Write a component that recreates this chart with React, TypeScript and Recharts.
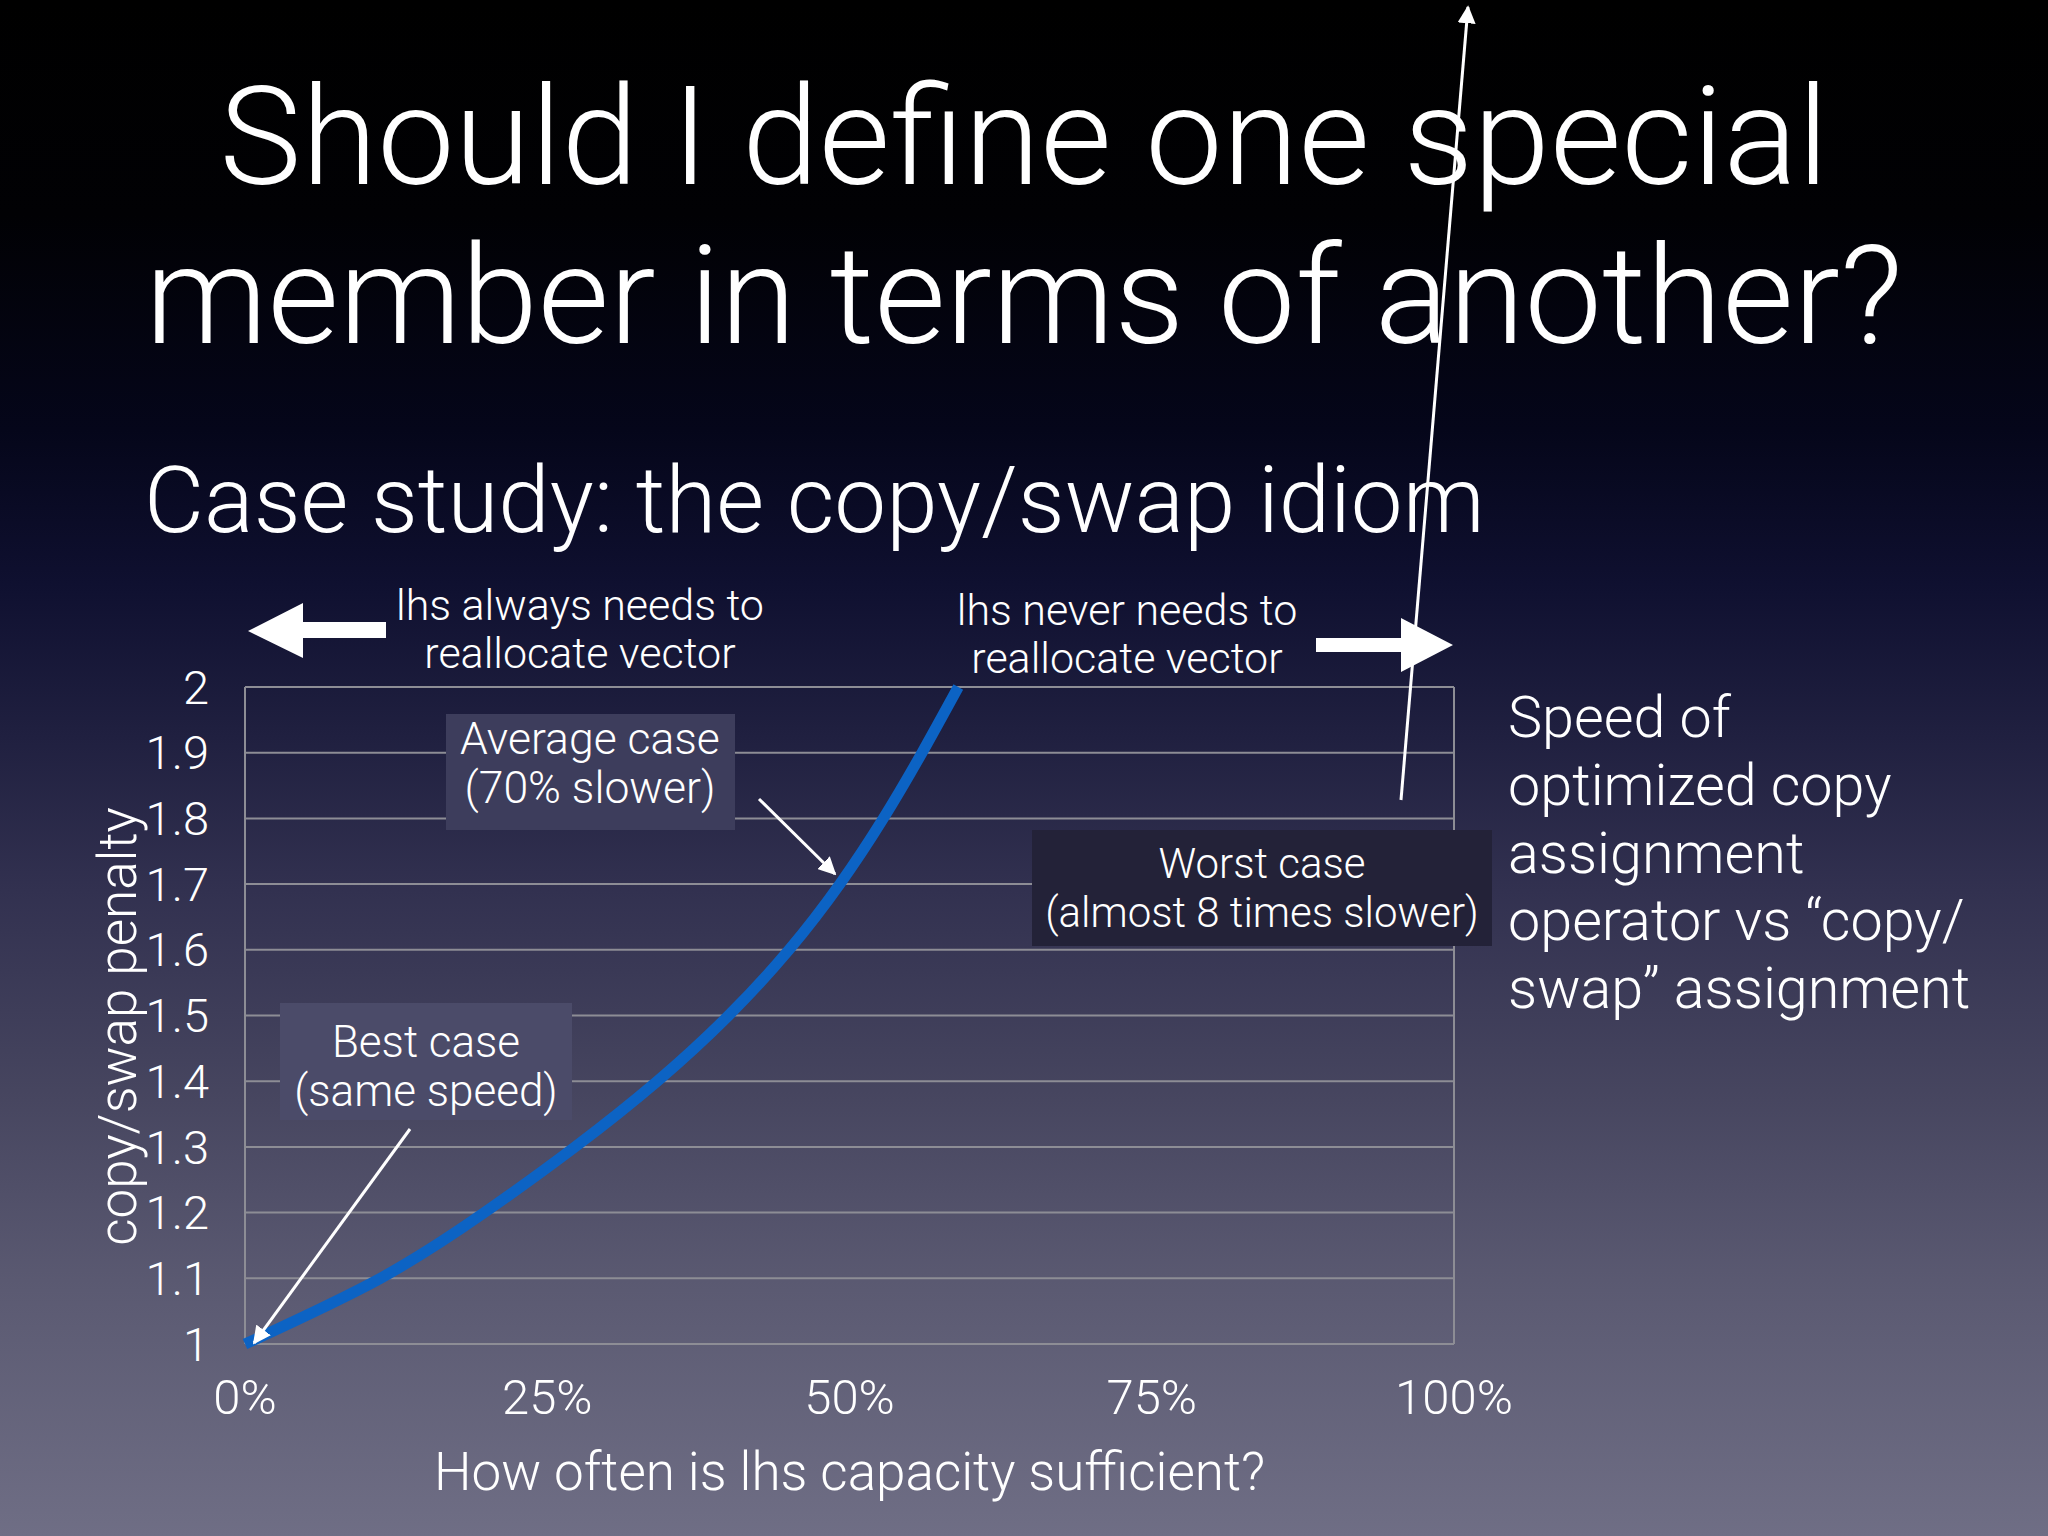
import React from 'react';
import { LineChart, Line, XAxis, YAxis, CartesianGrid, ReferenceLine, Label } from 'recharts';

// ---- data ----
const capacityPct = [0, 11.2, 19.8, 27.3, 34.1, 40.0, 45.0, 49.2, 52.8, 56.0, 59.0];
const penalty = [1.0, 1.1, 1.2, 1.3, 1.4, 1.5, 1.6, 1.7, 1.8, 1.9, 2.0];

const xTicks = [0, 25, 50, 75, 100];
const xTickLabels = ['0%', '25%', '50%', '75%', '100%'];
const yTicks = [1, 1.1, 1.2, 1.3, 1.4, 1.5, 1.6, 1.7, 1.8, 1.9, 2];
const yTickLabels = ['1', '1.1', '1.2', '1.3', '1.4', '1.5', '1.6', '1.7', '1.8', '1.9', '2'];

const titleLines = ['Should I define one special', 'member in terms of another?'];
const subtitle = 'Case study: the copy/swap idiom';
const xAxisTitle = 'How often is lhs capacity sufficient?';
const yAxisTitle = 'copy/swap penalty';
const leftNote = ['lhs always needs to', 'reallocate vector'];
const rightNote = ['lhs never needs to', 'reallocate vector'];
const avgNote = ['Average case', '(70% slower)'];
const bestNote = ['Best case', '(same speed)'];
const worstNote = ['Worst case', '(almost 8 times slower)'];
const sideNote = ['Speed of', 'optimized copy', 'assignment', 'operator vs \u201Ccopy/', 'swap\u201D assignment'];

const data = capacityPct.map((x, i) => ({ x, penalty: penalty[i] }));

const FONT = "'Helvetica Neue', Roboto, 'Liberation Sans', sans-serif";
const GRID = '#8d8d95';

const txt = { fill: '#ffffff', fontFamily: FONT, fontWeight: 300 } as const;

export default function App() {
  return (
    <div
      style={{
        position: 'absolute',
        left: 0,
        top: 0,
        width: 2048,
        height: 1536,
        overflow: 'hidden',
        background:
          'linear-gradient(to bottom, #000000 0%, #010104 14%, #05061a 28%, #0f1030 38%, #202040 48%, #323150 58%, #46455f 71%, #5b5a72 84%, #6f6e85 100%)',
      }}
    >
      <LineChart
        width={2048}
        height={1536}
        data={data}
        margin={{ top: 687, right: 594, bottom: 0, left: 0 }}
        style={{ position: 'absolute', left: 0, top: 0 }}
      >
        <CartesianGrid vertical={false} stroke={GRID} strokeWidth={2} />
        <XAxis
          dataKey="x"
          type="number"
          domain={[0, 100]}
          ticks={xTicks}
          interval={0}
          tickFormatter={(v: number) => xTickLabels[xTicks.indexOf(v)]}
          axisLine={false}
          tickLine={false}
          tickSize={6}
          tickMargin={29}
          height={192}
          tick={{ ...txt, fontSize: 49 }}
        >
          <Label value={xAxisTitle} position="insideBottom" offset={46} style={{ ...txt, fontSize: 53 }} />
        </XAxis>
        <YAxis
          type="number"
          domain={[1, 2]}
          ticks={yTicks}
          interval={0}
          tickFormatter={(v: number) => yTickLabels[yTicks.indexOf(v)]}
          axisLine={false}
          tickLine={false}
          tickSize={6}
          tickMargin={30}
          width={245}
          tick={{ ...txt, fontSize: 47 }}
        >
          <Label
            content={(p: any) => {
              const vb = p.viewBox || { x: 0, y: 687, width: 245, height: 657 };
              const cx = vb.x + 136;
              const cy = vb.y + vb.height / 2 + 11;
              return (
                <text
                  x={cx}
                  y={cy}
                  transform={`rotate(-90 ${cx} ${cy})`}
                  textAnchor="middle"
                  {...txt}
                  fontSize={53}
                >
                  {yAxisTitle}
                </text>
              );
            }}
          />
        </YAxis>
        <ReferenceLine x={0} stroke={GRID} strokeWidth={2} />
        <ReferenceLine x={100} stroke={GRID} strokeWidth={2} />
        <Line
          type="natural"
          dataKey="penalty"
          stroke="#0c63c4"
          strokeWidth={11}
          dot={false}
          activeDot={false}
          isAnimationActive={false}
        />
      </LineChart>

      <svg
        width={2048}
        height={1536}
        style={{ position: 'absolute', left: 0, top: 0, pointerEvents: 'none' }}
      >
        <defs>
          <marker id="ah" viewBox="0 0 10 10" refX="9" refY="5" markerWidth="6" markerHeight="6" orient="auto" markerUnits="strokeWidth">
            <path d="M0,0 L10,5 L0,10 z" fill="#ffffff" />
          </marker>
        </defs>

        {/* title */}
        <text x={1024} y={184} textAnchor="middle" {...txt} fontSize={138}>{titleLines[0]}</text>
        <text x={1024} y={343} textAnchor="middle" {...txt} fontSize={138}>{titleLines[1]}</text>
        <text x={144} y={532} textAnchor="start" {...txt} fontSize={92.5}>{subtitle}</text>

        {/* top notes */}
        <text x={580} y={620} textAnchor="middle" {...txt} fontSize={43}>{leftNote[0]}</text>
        <text x={580} y={668} textAnchor="middle" {...txt} fontSize={43}>{leftNote[1]}</text>
        <text x={1127} y={625} textAnchor="middle" {...txt} fontSize={43}>{rightNote[0]}</text>
        <text x={1127} y={673} textAnchor="middle" {...txt} fontSize={43}>{rightNote[1]}</text>

        {/* block arrows */}
        <polygon points="248,631 303,603 303,622 386,622 386,638 303,638 303,658" fill="#ffffff" />
        <polygon points="1453,645 1401,618 1401,638 1316,638 1316,652 1401,652 1401,672" fill="#ffffff" />

        {/* boxes */}
        <rect x={446} y={714} width={289} height={116} fill="#3d3d5c" />
        <text x={590} y={754} textAnchor="middle" {...txt} fontSize={44.5}>{avgNote[0]}</text>
        <text x={590} y={803} textAnchor="middle" {...txt} fontSize={44.5}>{avgNote[1]}</text>

        <rect x={280} y={1003} width={292} height={117} fill="#4b4b69" />
        <text x={426} y={1057} textAnchor="middle" {...txt} fontSize={44}>{bestNote[0]}</text>
        <text x={426} y={1106} textAnchor="middle" {...txt} fontSize={44}>{bestNote[1]}</text>

        <rect x={1032} y={830} width={460} height={116} fill="#232238" />
        <text x={1262} y={878} textAnchor="middle" {...txt} fontSize={42}>{worstNote[0]}</text>
        <text x={1262} y={927} textAnchor="middle" {...txt} fontSize={42}>{worstNote[1]}</text>

        {/* side note */}
        {sideNote.map((s, i) => (
          <text key={i} x={1508} y={737 + i * 67.8} textAnchor="start" {...txt} fontSize={57.5}>{s}</text>
        ))}

        {/* pointer arrows */}
        <line x1={759} y1={799} x2={835} y2={874} stroke="#ffffff" strokeWidth={3} markerEnd="url(#ah)" />
        <line x1={410} y1={1129} x2={254} y2={1343} stroke="#ffffff" strokeWidth={3} markerEnd="url(#ah)" />
        <line x1={1401} y1={800} x2={1468} y2={7} stroke="#ffffff" strokeWidth={3} markerEnd="url(#ah)" />
      </svg>
    </div>
  );
}
